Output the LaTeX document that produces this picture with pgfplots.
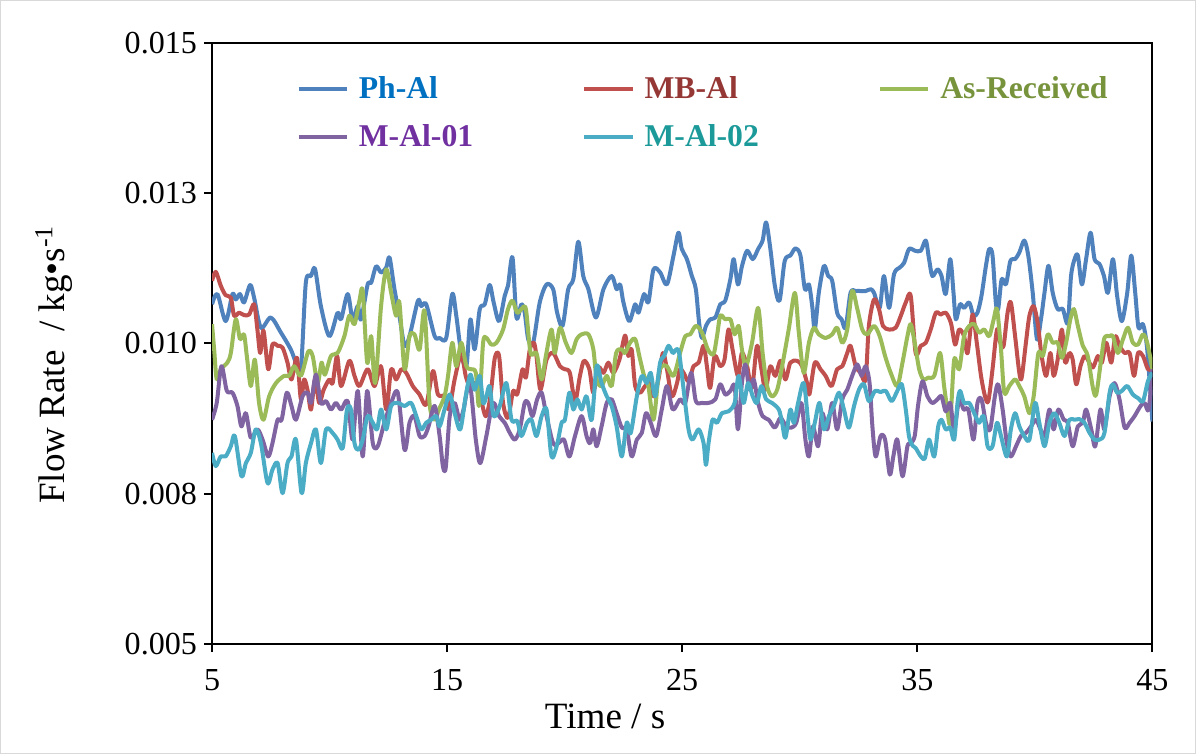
\documentclass[border=0pt]{standalone}
\usepackage{fontspec}
\setmainfont{Liberation Serif}
\usepackage{pgfplots}
\pgfplotsset{compat=1.18}

\definecolor{cPh}{HTML}{4F81BD}
\definecolor{cMB}{HTML}{C0504D}
\definecolor{cAs}{HTML}{9BBB59}
\definecolor{cM1}{HTML}{8064A2}
\definecolor{cM2}{HTML}{4BACC6}
\definecolor{tPh}{HTML}{0070C0}
\definecolor{tMB}{HTML}{953735}
\definecolor{tAs}{HTML}{77933C}
\definecolor{tM1}{HTML}{7030A0}
\definecolor{tM2}{HTML}{1C9A99}
\definecolor{frame}{HTML}{D9D9D9}

\begin{document}
\begin{tikzpicture}
\begin{axis}[
  at={(0,0)}, anchor=south west,
  scale only axis,
  width=469pt, height=300pt,
  xmin=5, xmax=45, ymin=0.005, ymax=0.015,
  xtick={5,15,25,35,45},
  xticklabels={5,15,25,35,45},
  ytick={0.005,0.0075,0.01,0.0125,0.015},
  yticklabels={0.005,0.008,0.010,0.013,0.015},
  scaled y ticks=false,
  tick pos=left,
  tick align=outside,
  major tick length=4pt,
  tick style={black, line width=1pt},
  axis line style={black, line width=1pt},
  ticklabel style={font=\fontsize{16}{18}\selectfont},
  xticklabel style={yshift=-5pt},
  xlabel={Time / s},
  ylabel={Flow Rate\ \ / kg•s\textsuperscript{-1}},
  label style={font=\fontsize{18.5}{21}\selectfont},
  xlabel style={at={(rel axis cs:0.418,-0.12)}, anchor=center},
  ylabel style={at={(rel axis cs:-0.168,0.465)}, anchor=center},
  every axis plot/.append style={line width=2pt, smooth, line join=round},
  legend columns=3,
  legend cell align=left,
  legend style={draw=none, fill=none, inner sep=0pt, column sep=0pt, row sep=11.5pt,
    at={(rel axis cs:0.0896,0.945)}, anchor=north west,
    nodes={inner sep=0pt, anchor=west},
    font=\fontsize{15.8}{17}\selectfont\bfseries},
  legend image code/.code={\draw[#1, line width=2pt] (0pt,0pt) -- (24pt,0pt);},
]
% Ph-Al
\addplot[cPh] coordinates {
(5.00,0.01065) (5.23,0.01082) (5.58,0.01037) (5.87,0.01082) (6.01,0.01073) (6.19,0.01082)
(6.36,0.01068) (6.62,0.01097) (6.79,0.01076) (7.08,0.01026) (7.50,0.01043) (7.93,0.01018)
(8.35,0.00990) (8.57,0.00968) (8.78,0.00957) (8.99,0.01101) (9.21,0.01112) (9.38,0.01124)
(9.63,0.01062) (9.99,0.01012) (10.34,0.01051) (10.49,0.01040) (10.77,0.01082) (10.98,0.01040)
(11.20,0.01062) (11.34,0.01040) (11.62,0.01098) (11.77,0.01101) (11.98,0.01128) (12.19,0.01118)
(12.41,0.01126) (12.55,0.01143) (12.76,0.01090) (12.97,0.01046) (13.19,0.00996) (13.40,0.01012)
(13.76,0.01071) (13.90,0.01062) (14.11,0.01065) (14.47,0.01012)
(14.68,0.01009) (14.96,0.01009) (15.22,0.01082) (15.39,0.01046) (15.60,0.00984) (15.82,0.00962)
(15.99,0.01040) (16.17,0.00990) (16.39,0.01057) (16.60,0.01065) (16.81,0.01097) (16.98,0.01068)
(17.21,0.01037) (17.45,0.01079) (17.59,0.01096) (17.78,0.01143) (17.95,0.01043) (18.16,0.01065)
(18.30,0.01051) (18.45,0.01007) (18.66,0.01001) (18.94,0.01068) (19.23,0.01098) (19.51,0.01090)
(19.68,0.01051) (19.91,0.01029) (20.15,0.01090) (20.37,0.01107) (20.58,0.01169) (20.79,0.01112)
(21.01,0.01090) (21.33,0.01043) (21.65,0.01090) (22.00,0.01112) (22.21,0.01090) (22.36,0.01098)
(22.50,0.01068) (22.75,0.01037) (23.00,0.01065) (23.14,0.01051) (23.38,0.01082) (23.56,0.01068)
(23.78,0.01123) (24.06,0.01118) (24.35,0.01098) (24.63,0.01146)
(24.84,0.01184) (24.98,0.01157) (25.20,0.01140) (25.41,0.01112) (25.58,0.01090) (25.72,0.01034)
(25.84,0.01009) (26.01,0.01029) (26.19,0.01040) (26.41,0.01043) (26.62,0.01065) (26.83,0.01071)
(27.05,0.01107) (27.19,0.01140) (27.37,0.01098) (27.54,0.01128) (27.76,0.01154) (28.00,0.01140)
(28.23,0.01157) (28.42,0.01171) (28.57,0.01201) (28.75,0.01157) (28.94,0.01096) (29.14,0.01071)
(29.36,0.01137) (29.60,0.01146) (29.82,0.01158) (30.03,0.01146) (30.22,0.01090) (30.39,0.01098)
(30.53,0.01062) (30.64,0.01023) (30.81,0.01084) (31.03,0.01129) (31.21,0.01112) (31.38,0.01104)
(31.59,0.01051) (31.78,0.01040) (31.95,0.01026) (32.16,0.01084) (32.38,0.01087) (32.59,0.01087)
(32.80,0.01087) (33.02,0.01090) (33.16,0.01084) (33.40,0.01059) (33.58,0.01112) (33.80,0.01059)
(34.01,0.01115) (34.25,0.01126) (34.44,0.01134) (34.65,0.01157)
(34.90,0.01154) (35.15,0.01154) (35.36,0.01171) (35.50,0.01140) (35.64,0.01112) (35.86,0.01123)
(36.03,0.01112) (36.21,0.01082) (36.40,0.01140) (36.54,0.01084) (36.64,0.01040) (36.82,0.01065)
(36.99,0.01059) (37.21,0.01068) (37.39,0.01046) (37.56,0.01051) (37.73,0.01079) (37.92,0.01129)
(38.06,0.01157) (38.20,0.01146) (38.34,0.01068) (38.44,0.01057) (38.59,0.01107) (38.77,0.01098)
(38.96,0.01137) (39.16,0.01140) (39.34,0.01151) (39.55,0.01171) (39.72,0.01146) (39.91,0.01084)
(40.09,0.01007) (40.26,0.01040) (40.41,0.01084) (40.58,0.01129) (40.76,0.01084) (40.97,0.01057)
(41.19,0.01057) (41.40,0.01034) (41.54,0.01112) (41.69,0.01140) (41.83,0.01146) (42.00,0.01098)
(42.18,0.01140) (42.37,0.01184) (42.54,0.01140) (42.75,0.01132) (42.94,0.01112) (43.11,0.01084)
(43.32,0.01140) (43.50,0.01079) (43.70,0.01037) (43.93,0.01084) (44.10,0.01146) (44.27,0.01084)
(44.41,0.01026) (44.60,0.01032) (44.78,0.00990) (45.00,0.00870)
};
\addlegendentry{\hspace{5pt}\makebox[111.5pt][l]{\textcolor{tPh}{Ph-Al}}}
% MB-Al
\addplot[cMB] coordinates {
(5.00,0.01104) (5.16,0.01119) (5.37,0.01096) (5.58,0.01080) (5.80,0.01076) (5.94,0.01046)
(6.15,0.01051) (6.36,0.01047) (6.58,0.01048) (6.79,0.01065) (6.93,0.01023) (7.05,0.00984)
(7.19,0.01021) (7.39,0.00957) (7.57,0.00998) (7.79,0.00996) (8.00,0.00993) (8.21,0.00968)
(8.38,0.00940) (8.61,0.00976) (8.78,0.00907) (8.92,0.00940) (9.07,0.00921) (9.21,0.00890)
(9.38,0.00940) (9.56,0.00901) (9.75,0.00923) (9.99,0.00940) (10.13,0.00934) (10.32,0.00979)
(10.49,0.00929) (10.84,0.00971) (11.06,0.00946) (11.27,0.00929) (11.62,0.00957) (11.91,0.00929)
(12.19,0.00962) (12.41,0.00890) (12.62,0.00957) (12.83,0.00940) (13.05,0.00957) (13.26,0.00951)
(13.54,0.00929) (13.83,0.00915) (14.11,0.00898) (14.40,0.00954) (14.61,0.00915)
(14.89,0.00912) (15.08,0.00890) (15.32,0.00940) (15.60,0.00982) (15.79,0.00946) (15.96,0.00929)
(16.17,0.00934) (16.39,0.00915) (16.64,0.00879) (16.84,0.00912) (17.03,0.00976) (17.21,0.00979)
(17.38,0.00901) (17.59,0.00876) (17.81,0.00921) (17.98,0.00915) (18.21,0.00957) (18.35,0.00943)
(18.52,0.00990) (18.69,0.01001) (18.80,0.00979) (18.97,0.00923) (19.23,0.00973) (19.51,0.00984)
(19.80,0.00962) (20.01,0.00957) (20.22,0.00951) (20.44,0.00904) (20.65,0.00946) (20.82,0.00971)
(21.05,0.00957) (21.22,0.00918) (21.43,0.00960) (21.65,0.00951) (21.86,0.00968) (22.07,0.00951)
(22.33,0.00973) (22.57,0.01013) (22.71,0.00979) (22.85,0.00990) (23.00,0.00929) (23.21,0.00918)
(23.42,0.00929) (23.61,0.00934) (23.78,0.00912) (23.99,0.00940) (24.18,0.00984) (24.35,0.00957)
(24.56,0.00912)
(24.78,0.00934) (24.90,0.00957) (25.06,0.00951) (25.27,0.00937) (25.48,0.00962) (25.70,0.00968)
(25.91,0.00996) (26.05,0.00962) (26.19,0.00926) (26.38,0.00979) (26.62,0.00962) (26.80,0.00973)
(26.97,0.01023) (27.14,0.00990) (27.37,0.00946) (27.54,0.00984) (27.76,0.00962) (27.97,0.00926)
(28.18,0.00996) (28.37,0.00957) (28.54,0.00923) (28.75,0.00962) (28.96,0.00946) (29.18,0.00971)
(29.39,0.00940) (29.60,0.00968) (29.89,0.00971) (30.10,0.00962) (30.31,0.00934) (30.41,0.00915)
(30.64,0.00968) (30.88,0.00957) (31.10,0.00946) (31.35,0.00929) (31.59,0.00957) (31.81,0.00962)
(32.02,0.00984) (32.16,0.00996) (32.38,0.00962) (32.59,0.00951) (32.80,0.00940) (32.94,0.01029)
(33.16,0.01073) (33.37,0.01057) (33.54,0.01029) (33.80,0.01023) (34.08,0.01026) (34.30,0.01046)
(34.51,0.01068) (34.72,0.01079)
(34.93,0.00984) (35.15,0.00996) (35.36,0.01001) (35.57,0.01023) (35.79,0.01051) (36.00,0.01048)
(36.21,0.01051) (36.43,0.01034) (36.61,0.00998) (36.78,0.01023) (36.99,0.01012) (37.14,0.00984)
(37.35,0.01048) (37.53,0.01001) (37.71,0.00946) (37.88,0.00912) (38.02,0.00904) (38.20,0.00957)
(38.39,0.01023) (38.53,0.01001) (38.67,0.00996) (38.84,0.01051) (38.98,0.01068) (39.16,0.01012)
(39.34,0.00951) (39.44,0.00943) (39.62,0.01001) (39.77,0.01046) (39.95,0.01062) (40.12,0.01034)
(40.29,0.00979) (40.48,0.00946) (40.66,0.00984) (40.80,0.00946) (40.97,0.00973) (41.15,0.01023)
(41.29,0.00968) (41.47,0.00984) (41.61,0.00973) (41.76,0.00932) (41.94,0.00962) (42.11,0.00979)
(42.25,0.00973) (42.47,0.00960) (42.68,0.00979) (42.85,0.00968) (43.04,0.01001) (43.25,0.00968)
(43.42,0.01012) (43.60,0.00996) (43.82,0.00984) (44.03,0.00984) (44.22,0.00946) (44.39,0.00984)
(44.60,0.00979) (44.81,0.00957) (45.00,0.00957)
};
\addlegendentry{\hspace{5pt}\makebox[116.5pt][l]{\textcolor{tMB}{MB-Al}}}
% As-Received
\addplot[cAs] coordinates {
(5.00,0.01032) (5.09,0.00990) (5.20,0.00940) (5.37,0.00957) (5.65,0.00968) (5.80,0.00984)
(6.01,0.01040) (6.19,0.01007) (6.36,0.01015) (6.48,0.00979) (6.65,0.00929) (6.82,0.00973)
(7.00,0.00901) (7.19,0.00873) (7.43,0.00912) (7.72,0.00934) (8.07,0.00946) (8.28,0.00946)
(8.50,0.00962) (8.78,0.00946) (9.09,0.00986) (9.28,0.00979) (9.49,0.00934) (9.66,0.00968)
(9.80,0.00948) (10.06,0.00979) (10.34,0.00984) (10.63,0.01012) (10.84,0.01046) (11.06,0.01032)
(11.27,0.01071) (11.41,0.01087) (11.60,0.00968) (11.77,0.01012) (11.94,0.00934) (12.19,0.01062)
(12.41,0.01123) (12.62,0.01084) (12.83,0.01046) (12.97,0.01068) (13.19,0.00957) (13.40,0.01012)
(13.61,0.01015) (13.83,0.00990) (14.04,0.01054) (14.25,0.00901) (14.47,0.00873) (14.65,0.00890)
(14.89,0.00912) (15.04,0.00946) (15.22,0.01001) (15.39,0.00962) (15.60,0.01001) (15.82,0.00962)
(16.03,0.00957) (16.22,0.00951) (16.36,0.00896) (16.53,0.01001) (16.67,0.01009) (16.88,0.00998)
(17.10,0.01001) (17.38,0.01023) (17.59,0.01057) (17.78,0.01071) (17.98,0.01051) (18.16,0.01057)
(18.35,0.01057) (18.55,0.00984) (18.80,0.00984) (19.02,0.00940) (19.20,0.00979) (19.44,0.01023)
(19.58,0.00984) (19.80,0.01026) (20.05,0.01001) (20.29,0.00984) (20.51,0.01007) (20.72,0.01015)
(21.01,0.01015) (21.22,0.00990) (21.36,0.00940) (21.57,0.00929) (21.79,0.00946) (22.00,0.00929)
(22.19,0.00984) (22.43,0.00990) (22.57,0.00984) (22.78,0.01001) (23.00,0.01007) (23.21,0.00973)
(23.38,0.00946) (23.56,0.00929) (23.78,0.00873) (23.99,0.00946) (24.13,0.00962) (24.35,0.00962)
(24.63,0.00946)
(24.91,0.00984) (25.13,0.01012) (25.34,0.01015) (25.58,0.01029) (25.84,0.01018) (26.09,0.00990)
(26.33,0.00982) (26.48,0.01012) (26.62,0.01046) (26.83,0.01040) (27.05,0.01040) (27.23,0.01015)
(27.40,0.01029) (27.54,0.00990) (27.71,0.00962) (27.97,0.01001) (28.23,0.01059) (28.42,0.00984)
(28.61,0.00929) (28.82,0.00912) (29.04,0.00923) (29.25,0.00962) (29.53,0.01023) (29.79,0.01084)
(29.96,0.01018) (30.17,0.00951) (30.39,0.01001) (30.60,0.01026) (30.81,0.01015) (31.10,0.01009)
(31.38,0.01015) (31.59,0.01026) (31.81,0.01001) (32.02,0.01023) (32.23,0.01087) (32.45,0.01057)
(32.66,0.01023) (32.87,0.01015) (33.16,0.01029) (33.40,0.01012) (33.63,0.00979) (33.87,0.00951)
(34.15,0.00929) (34.37,0.00968) (34.58,0.01012) (34.72,0.01032)
(34.89,0.01001) (35.08,0.00957) (35.26,0.00940) (35.46,0.00943) (35.72,0.00946) (35.97,0.00984)
(36.14,0.00929) (36.28,0.00890) (36.40,0.00868) (36.57,0.00973) (36.78,0.00957) (36.99,0.01012)
(37.21,0.01029) (37.42,0.01032) (37.63,0.01018) (37.85,0.01023) (38.06,0.01012) (38.25,0.01040)
(38.39,0.01057) (38.56,0.00990) (38.70,0.00918) (38.91,0.00929) (39.16,0.00940) (39.34,0.00929)
(39.55,0.00912) (39.77,0.00884) (39.95,0.00912) (40.15,0.00984) (40.34,0.00979) (40.55,0.01015)
(40.76,0.01001) (40.97,0.01001) (41.15,0.00976) (41.33,0.01001) (41.51,0.01040) (41.66,0.01057)
(41.83,0.01029) (42.04,0.00996) (42.25,0.00979) (42.47,0.00926) (42.61,0.00915) (42.82,0.00973)
(42.96,0.01009) (43.18,0.01012) (43.32,0.01012) (43.53,0.00984) (43.75,0.01007) (43.96,0.01026)
(44.17,0.01001) (44.39,0.00998) (44.60,0.01015) (44.78,0.01001) (45.00,0.00957)
};
\addlegendentry{\hspace{5pt}\textcolor{tAs}{As-Received}}
% M-Al-01
\addplot[cM1] coordinates {
(5.00,0.00873) (5.20,0.00901) (5.40,0.00962) (5.63,0.00921) (5.87,0.00918) (6.08,0.00896)
(6.25,0.00862) (6.44,0.00884) (6.65,0.00843) (6.93,0.00857) (7.15,0.00840) (7.39,0.00812)
(7.57,0.00834) (7.79,0.00873) (7.96,0.00873) (8.18,0.00918) (8.38,0.00896) (8.57,0.00873)
(8.85,0.00912) (9.07,0.00918) (9.21,0.00901) (9.42,0.00948) (9.63,0.00901) (9.85,0.00904)
(10.06,0.00890) (10.27,0.00901) (10.49,0.00890) (10.77,0.00904) (10.98,0.00840) (11.20,0.00921)
(11.41,0.00812) (11.60,0.00921) (11.84,0.00834) (12.05,0.00829) (12.33,0.00868) (12.62,0.00901)
(12.90,0.00918) (13.19,0.00823) (13.40,0.00868) (13.61,0.00879) (13.83,0.00846) (14.04,0.00846)
(14.21,0.00862) (14.47,0.00896) (14.68,0.00846) (14.82,0.00796)
(14.94,0.00793) (15.11,0.00879) (15.32,0.00901) (15.53,0.00873) (15.70,0.00890) (15.96,0.00934)
(16.22,0.00840) (16.41,0.00801) (16.67,0.00846) (16.95,0.00901) (17.21,0.00879) (17.45,0.00868)
(17.67,0.00851) (17.88,0.00840) (18.09,0.00857) (18.30,0.00901) (18.45,0.00901) (18.63,0.00879)
(18.83,0.00907) (19.02,0.00918) (19.23,0.00879) (19.51,0.00834) (19.73,0.00834) (19.97,0.00840)
(20.20,0.00812) (20.44,0.00846) (20.72,0.00879) (20.93,0.00846) (21.08,0.00834) (21.22,0.00857)
(21.36,0.00829) (21.57,0.00862) (21.79,0.00901) (22.00,0.00907) (22.21,0.00884) (22.43,0.00860)
(22.64,0.00857) (22.85,0.00812) (23.07,0.00840) (23.28,0.00851) (23.46,0.00884) (23.66,0.00868)
(23.89,0.00846) (24.13,0.00890) (24.35,0.00929) (24.60,0.00890)
(24.91,0.00907) (25.13,0.00901) (25.38,0.00951) (25.58,0.00904) (25.84,0.00901) (26.12,0.00901)
(26.41,0.00907) (26.62,0.00932) (26.83,0.00915) (27.05,0.00921) (27.23,0.00929) (27.37,0.00857)
(27.54,0.00934) (27.69,0.00965) (27.86,0.00923) (28.04,0.00940) (28.23,0.00901) (28.42,0.00879)
(28.68,0.00873) (28.94,0.00860) (29.18,0.00876) (29.42,0.00862) (29.65,0.00860) (29.85,0.00868)
(30.07,0.00901) (30.24,0.00840) (30.39,0.00812) (30.56,0.00862) (30.78,0.00829) (30.95,0.00884)
(31.17,0.00857) (31.38,0.00901) (31.59,0.00857) (31.81,0.00907) (32.02,0.00923) (32.23,0.00946)
(32.45,0.00965) (32.63,0.00946) (32.80,0.00962) (32.97,0.00934) (33.09,0.00862) (33.23,0.00812)
(33.44,0.00846) (33.63,0.00840) (33.83,0.00782) (33.98,0.00812) (34.15,0.00840) (34.37,0.00779)
(34.58,0.00829) (34.72,0.00834)
(34.89,0.00846) (35.03,0.00896) (35.22,0.00937) (35.43,0.00912) (35.64,0.00901) (35.86,0.00907)
(36.03,0.00912) (36.21,0.00887) (36.40,0.00901) (36.57,0.00857) (36.78,0.00907) (36.97,0.00890)
(37.17,0.00890) (37.39,0.00840) (37.56,0.00901) (37.73,0.00907) (37.92,0.00868) (38.10,0.00857)
(38.30,0.00912) (38.44,0.00932) (38.63,0.00890) (38.81,0.00834) (38.98,0.00812) (39.20,0.00829)
(39.41,0.00846) (39.62,0.00851) (39.84,0.00862) (40.05,0.00873) (40.24,0.00857) (40.41,0.00846)
(40.62,0.00890) (40.80,0.00857) (41.00,0.00890) (41.23,0.00873) (41.40,0.00868) (41.61,0.00829)
(41.83,0.00862) (42.04,0.00868) (42.18,0.00890) (42.40,0.00857) (42.57,0.00829) (42.79,0.00890)
(42.96,0.00857) (43.18,0.00912) (43.39,0.00934) (43.60,0.00907) (43.82,0.00860) (44.03,0.00868)
(44.24,0.00879) (44.50,0.00896) (44.67,0.00901) (44.84,0.00890) (45.00,0.00957)
};
\addlegendentry{\hspace{5pt}\makebox[111.5pt][l]{\textcolor{tM1}{M-Al-01}}}
% M-Al-02
\addplot[cM2] coordinates {
(5.00,0.00818) (5.16,0.00796) (5.37,0.00812) (5.58,0.00812) (5.80,0.00829) (5.97,0.00846)
(6.25,0.00779) (6.44,0.00801) (6.65,0.00818) (6.86,0.00857) (7.08,0.00834) (7.36,0.00768)
(7.57,0.00790) (7.79,0.00801) (8.00,0.00751) (8.21,0.00801) (8.38,0.00812) (8.57,0.00840)
(8.81,0.00751) (8.99,0.00801) (9.21,0.00834) (9.42,0.00857) (9.63,0.00801) (9.85,0.00857)
(10.13,0.00851) (10.34,0.00840) (10.56,0.00826) (10.74,0.00890) (10.91,0.00890) (11.06,0.00834)
(11.23,0.00823) (11.41,0.00840) (11.62,0.00879) (11.84,0.00868) (12.02,0.00857) (12.19,0.00890)
(12.41,0.00857) (12.62,0.00896) (12.90,0.00901) (13.19,0.00896) (13.47,0.00901) (13.69,0.00879)
(13.90,0.00857) (14.11,0.00868) (14.32,0.00873) (14.54,0.00879) (14.68,0.00862)
(14.89,0.00890) (15.11,0.00915) (15.32,0.00884) (15.56,0.00857) (15.79,0.00912) (15.99,0.00948)
(16.17,0.00923) (16.39,0.00946) (16.53,0.00901) (16.67,0.00912) (16.81,0.00929) (16.98,0.00879)
(17.24,0.00896) (17.52,0.00934) (17.74,0.00873) (17.98,0.00871) (18.16,0.00846) (18.40,0.00868)
(18.59,0.00873) (18.80,0.00846) (19.02,0.00879) (19.23,0.00890) (19.44,0.00812) (19.66,0.00829)
(19.87,0.00868) (20.01,0.00873) (20.20,0.00918) (20.37,0.00890) (20.54,0.00907) (20.72,0.00890)
(20.93,0.00912) (21.15,0.00873) (21.36,0.00962) (21.57,0.00934) (21.79,0.00912) (22.00,0.00896)
(22.21,0.00862) (22.43,0.00812) (22.64,0.00868) (22.81,0.00851) (23.07,0.00912) (23.28,0.00946)
(23.49,0.00934) (23.66,0.00951) (23.85,0.00912) (24.06,0.00968) (24.23,0.00979) (24.42,0.00996)
(24.60,0.00984) (24.75,0.00990)
(24.87,0.00984) (25.06,0.00923) (25.27,0.00857) (25.44,0.00840) (25.70,0.00857) (25.91,0.00834)
(26.01,0.00798) (26.12,0.00834) (26.29,0.00873) (26.48,0.00868) (26.69,0.00884) (26.97,0.00887)
(27.23,0.00901) (27.40,0.00946) (27.61,0.00901) (27.80,0.00934) (28.00,0.00912) (28.18,0.00901)
(28.37,0.00929) (28.57,0.00907) (28.82,0.00901) (29.11,0.00890) (29.25,0.00868) (29.39,0.00843)
(29.60,0.00890) (29.75,0.00868) (29.93,0.00901) (30.17,0.00934) (30.36,0.00868) (30.46,0.00840)
(30.64,0.00868) (30.84,0.00901) (31.03,0.00857) (31.24,0.00879) (31.45,0.00896) (31.67,0.00918)
(31.88,0.00890) (32.09,0.00860) (32.31,0.00896) (32.52,0.00923) (32.73,0.00932) (32.94,0.00904)
(33.20,0.00921) (33.44,0.00919) (33.66,0.00921) (33.91,0.00904) (34.15,0.00921) (34.34,0.00932)
(34.51,0.00890) (34.65,0.00845) (34.80,0.00830)
(34.93,0.00826) (35.15,0.00812) (35.32,0.00809) (35.50,0.00840) (35.72,0.00812) (35.89,0.00862)
(36.03,0.00873) (36.21,0.00857) (36.40,0.00860) (36.57,0.00840) (36.71,0.00901) (36.82,0.00921)
(36.99,0.00901) (37.21,0.00901) (37.42,0.00884) (37.63,0.00868) (37.82,0.00879) (37.99,0.00829)
(38.20,0.00829) (38.39,0.00868) (38.56,0.00846) (38.81,0.00812) (38.98,0.00857) (39.16,0.00884)
(39.34,0.00862) (39.55,0.00846) (39.77,0.00840) (40.01,0.00901) (40.19,0.00868) (40.41,0.00829)
(40.62,0.00868) (40.83,0.00884) (41.04,0.00868) (41.26,0.00846) (41.47,0.00873) (41.69,0.00873)
(41.90,0.00874) (42.11,0.00868) (42.33,0.00851) (42.54,0.00840) (42.75,0.00840) (42.96,0.00851)
(43.18,0.00918) (43.32,0.00932) (43.50,0.00918) (43.70,0.00921) (43.93,0.00929) (44.17,0.00915)
(44.39,0.00909) (44.60,0.00904) (44.81,0.00937) (45.00,0.00951)
};
\addlegendentry{\hspace{5pt}\makebox[116.5pt][l]{\textcolor{tM2}{M-Al-02}}}
\end{axis}
\draw[frame, line width=0.5pt] (-105.5pt,-54.5pt) rectangle (490.5pt,321pt);
\end{tikzpicture}
\end{document}
